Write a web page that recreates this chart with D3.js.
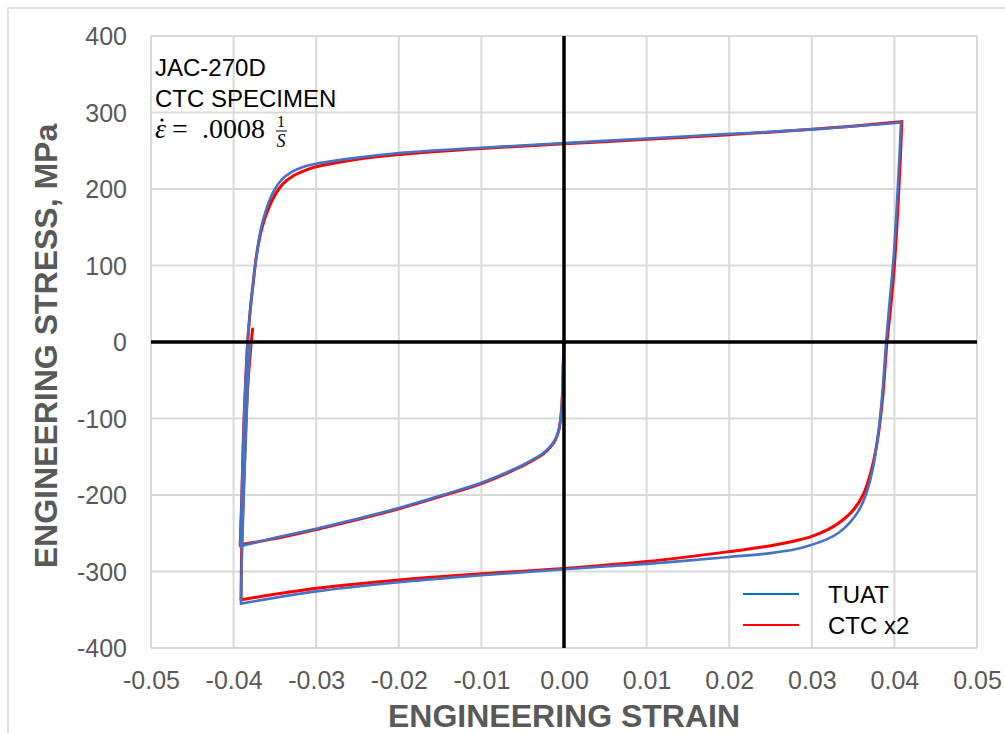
<!DOCTYPE html>
<html>
<head>
<meta charset="utf-8">
<script src="https://cdn.jsdelivr.net/npm/d3@7/dist/d3.min.js"></script>
<style>
  html, body { margin: 0; padding: 0; background: #ffffff; }
  svg { display: block; }
</style>
</head>
<body>
<svg id="chart" width="1005" height="733"></svg>
<script>
// Axis ticks
const xTicks = [-0.05, -0.04, -0.03, -0.02, -0.01, 0.00, 0.01, 0.02, 0.03, 0.04, 0.05];
const xTickLabels = ["-0.05", "-0.04", "-0.03", "-0.02", "-0.01", "0.00", "0.01", "0.02", "0.03", "0.04", "0.05"];
const yTicks = [-400, -300, -200, -100, 0, 100, 200, 300, 400];
const yTickLabels = ["-400", "-300", "-200", "-100", "0", "100", "200", "300", "400"];

const seriesNames = ["TUAT", "CTC x2"];

// TUAT hysteresis loop: compression, reversal into tension, reversal into compression, unload
const tuatStrain = [
  0, -0.0001, -0.0002, -0.0004, -0.0007, -0.0011, -0.0017, -0.0025, -0.0040, -0.0060,
  -0.0100, -0.0150, -0.0200, -0.0250, -0.0300, -0.0350, -0.0392,
  -0.0390, -0.0388, -0.0385, -0.0383, -0.0380, -0.0376, -0.0372, -0.0367, -0.0360,
  -0.0352, -0.0342, -0.0330, -0.0315, -0.0300, -0.0250, -0.0200, -0.0100, 0, 0.0100, 0.0200,
  0.0300, 0.0408,
  0.0406, 0.0403, 0.0399, 0.0394, 0.0390, 0.0386, 0.0381, 0.0374, 0.0366, 0.0357,
  0.0346, 0.0333, 0.0318, 0.0300, 0.0280, 0.0250, 0.0200, 0.0100, 0, -0.0100, -0.0200,
  -0.0300, -0.0391,
  -0.0390, -0.0387, -0.0384, -0.0381, -0.0379
];
const tuatStress = [
  0, -30, -70, -100, -118, -128, -137, -145, -155, -166,
  -184, -201, -217, -231, -244, -256, -267,
  -200, -120, -40, 0, 40, 80, 115, 148, 175,
  196, 212, 222, 229, 233, 241, 247, 254, 260, 266, 272,
  278, 287,
  240, 180, 110, 50, 0, -60, -115, -165, -198, -220,
  -236, -249, -258, -265, -271, -276, -281, -290, -297, -305, -314,
  -326, -342,
  -280, -180, -90, -20, 0
];

// CTC x2 hysteresis loop
const ctcStrain = [
  0, -0.0001, -0.0002, -0.0004, -0.0007, -0.0011, -0.0017, -0.0025, -0.0040, -0.0060,
  -0.0100, -0.0150, -0.0200, -0.0250, -0.0300, -0.0350, -0.0392,
  -0.0390, -0.0388, -0.0385, -0.0383, -0.0380, -0.0376, -0.0372, -0.0366, -0.0358,
  -0.0350, -0.0340, -0.0328, -0.0314, -0.0300, -0.0250, -0.0200, -0.0100, 0, 0.0100, 0.0200,
  0.0300, 0.0409,
  0.0407, 0.0404, 0.0400, 0.0395, 0.0391, 0.0386, 0.0380, 0.0372, 0.0362, 0.0350,
  0.0336, 0.0320, 0.0300, 0.0275, 0.0240, 0.0200, 0.0100, 0, -0.0100, -0.0200,
  -0.0300, -0.0391,
  -0.0390, -0.0387, -0.0383, -0.0379, -0.0377
];
const ctcStress = [
  0, -30, -70, -100, -118, -129, -138, -146, -156, -167,
  -185, -202, -218, -232, -245, -257, -265,
  -200, -120, -40, 0, 40, 80, 115, 148, 174,
  192, 207, 217, 224, 229, 239, 245, 253, 259, 265, 271,
  278, 288,
  235, 170, 100, 40, 0, -70, -125, -168, -200, -220,
  -234, -245, -254, -261, -268, -274, -287, -296, -303, -311,
  -322, -337,
  -260, -160, -60, -5, 17
];

const svg = d3.select("#chart");
const W = 1005, H = 733;
const plot = { left: 151, right: 977, top: 36, bottom: 648 };

const x = d3.scaleLinear().domain([-0.05, 0.05]).range([plot.left, plot.right]);
const y = d3.scaleLinear().domain([-400, 400]).range([plot.bottom, plot.top]);

const gridColor = "#d9d9d9";
const labelColor = "#595959";
const sansFont = "'Liberation Sans', Arial, sans-serif";
const serifFont = "'Liberation Serif', 'DejaVu Serif', serif";

// Outer chart frame
svg.append("rect")
  .attr("x", 8).attr("y", 8)
  .attr("width", W + 20).attr("height", H + 20)
  .attr("fill", "none").attr("stroke", gridColor).attr("stroke-width", 1.5);

// Gridlines
const grid = svg.append("g");
grid.selectAll("line.vx").data(xTicks).join("line")
  .attr("x1", d => x(d)).attr("x2", d => x(d))
  .attr("y1", plot.top).attr("y2", plot.bottom)
  .attr("stroke", gridColor).attr("stroke-width", 2);
grid.selectAll("line.hy").data(yTicks).join("line")
  .attr("x1", plot.left).attr("x2", plot.right)
  .attr("y1", d => y(d)).attr("y2", d => y(d))
  .attr("stroke", gridColor).attr("stroke-width", 2);

// Tick labels
const xAxis = d3.axisBottom(x).tickValues(xTicks)
  .tickFormat((d, i) => xTickLabels[i]).tickSize(0).tickPadding(0);
const gx = svg.append("g").attr("transform", `translate(0,${plot.bottom})`).call(xAxis);
gx.select(".domain").remove();
gx.selectAll("text")
  .attr("y", 41).attr("dy", null)
  .attr("font-family", sansFont).attr("font-size", 25).attr("fill", labelColor);

const yAxis = d3.axisLeft(y).tickValues(yTicks)
  .tickFormat((d, i) => yTickLabels[i]).tickSize(0).tickPadding(0);
const gy = svg.append("g").attr("transform", `translate(${plot.left},0)`).call(yAxis);
gy.select(".domain").remove();
gy.selectAll("text")
  .attr("x", -24).attr("dy", "0.35em")
  .attr("font-family", sansFont).attr("font-size", 25).attr("fill", labelColor);

// Split a loop into its monotone-strain branches so the reversal corners stay sharp
function branches(strain, stress) {
  const pts = d3.zip(strain, stress);
  const out = [];
  let cur = [pts[0]];
  let dir = 0;
  for (let i = 1; i < pts.length; i++) {
    const s = Math.sign(pts[i][0] - pts[i - 1][0]);
    if (dir !== 0 && s !== 0 && s !== dir) {
      out.push(cur);
      cur = [pts[i - 1]];
    }
    if (s !== 0) dir = s;
    cur.push(pts[i]);
  }
  out.push(cur);
  return out;
}

const line = d3.line()
  .x(d => x(d[0])).y(d => y(d[1]))
  .curve(d3.curveCatmullRom.alpha(0.5));

const seriesG = svg.append("g").attr("fill", "none")
  .attr("stroke-linejoin", "round").attr("stroke-linecap", "round");
seriesG.append("g").selectAll("path").data(branches(ctcStrain, ctcStress)).join("path")
  .attr("d", line).attr("stroke", "#ff0000").attr("stroke-width", 3);
seriesG.append("g").selectAll("path").data(branches(tuatStrain, tuatStress)).join("path")
  .attr("d", line).attr("stroke", "#4472c4").attr("stroke-width", 2.6);

// Zero axes
svg.append("line")
  .attr("x1", plot.left).attr("x2", plot.right)
  .attr("y1", y(0)).attr("y2", y(0))
  .attr("stroke", "#000").attr("stroke-width", 3.5);
svg.append("line")
  .attr("x1", x(0)).attr("x2", x(0))
  .attr("y1", plot.top).attr("y2", plot.bottom)
  .attr("stroke", "#000").attr("stroke-width", 3.5);

// Axis titles
svg.append("text")
  .attr("x", x(0)).attr("y", 727)
  .attr("text-anchor", "middle")
  .attr("font-family", sansFont).attr("font-weight", "bold")
  .attr("font-size", 32).attr("fill", labelColor)
  .text("ENGINEERING STRAIN");

svg.append("text")
  .attr("transform", `translate(57,${y(0) + 4}) rotate(-90)`)
  .attr("text-anchor", "middle")
  .attr("font-family", sansFont).attr("font-weight", "bold")
  .attr("font-size", 32).attr("fill", labelColor)
  .text("ENGINEERING STRESS, MPa");

// Specimen annotation
const note = svg.append("g").attr("font-family", sansFont).attr("font-size", 24).attr("fill", "#000");
note.append("text").attr("x", 155).attr("y", 76).text("JAC-270D");
note.append("text").attr("x", 155).attr("y", 107).text("CTC SPECIMEN");

// Strain-rate expression
const eq = svg.append("g").attr("font-family", serifFont).attr("fill", "#000");
eq.append("text").attr("x", 155).attr("y", 138).attr("font-size", 28)
  .attr("font-style", "italic").text("\u03B5");
eq.append("circle").attr("cx", 162).attr("cy", 120).attr("r", 1.6).attr("fill", "#000");
eq.append("text").attr("x", 172).attr("y", 138).attr("font-size", 28).text("=");
eq.append("text").attr("x", 202).attr("y", 138).attr("font-size", 28).text(".0008");
eq.append("text").attr("x", 281).attr("y", 127).attr("font-size", 16)
  .attr("text-anchor", "middle").text("1");
eq.append("line").attr("x1", 276).attr("x2", 287).attr("y1", 131).attr("y2", 131)
  .attr("stroke", "#000").attr("stroke-width", 1);
eq.append("text").attr("x", 281).attr("y", 147).attr("font-size", 18)
  .attr("font-style", "italic").attr("text-anchor", "middle").text("S");

// Legend
const legendColors = ["#0070c0", "#ff0000"];
const legend = svg.append("g");
seriesNames.forEach((name, i) => {
  const ly = 594 + i * 31;
  legend.append("line")
    .attr("x1", 743).attr("x2", 799).attr("y1", ly).attr("y2", ly)
    .attr("stroke", legendColors[i]).attr("stroke-width", 2);
  legend.append("text")
    .attr("x", 828).attr("y", ly + 9)
    .attr("font-family", sansFont).attr("font-size", 24).attr("fill", "#000")
    .text(name);
});
</script>
</body>
</html>
